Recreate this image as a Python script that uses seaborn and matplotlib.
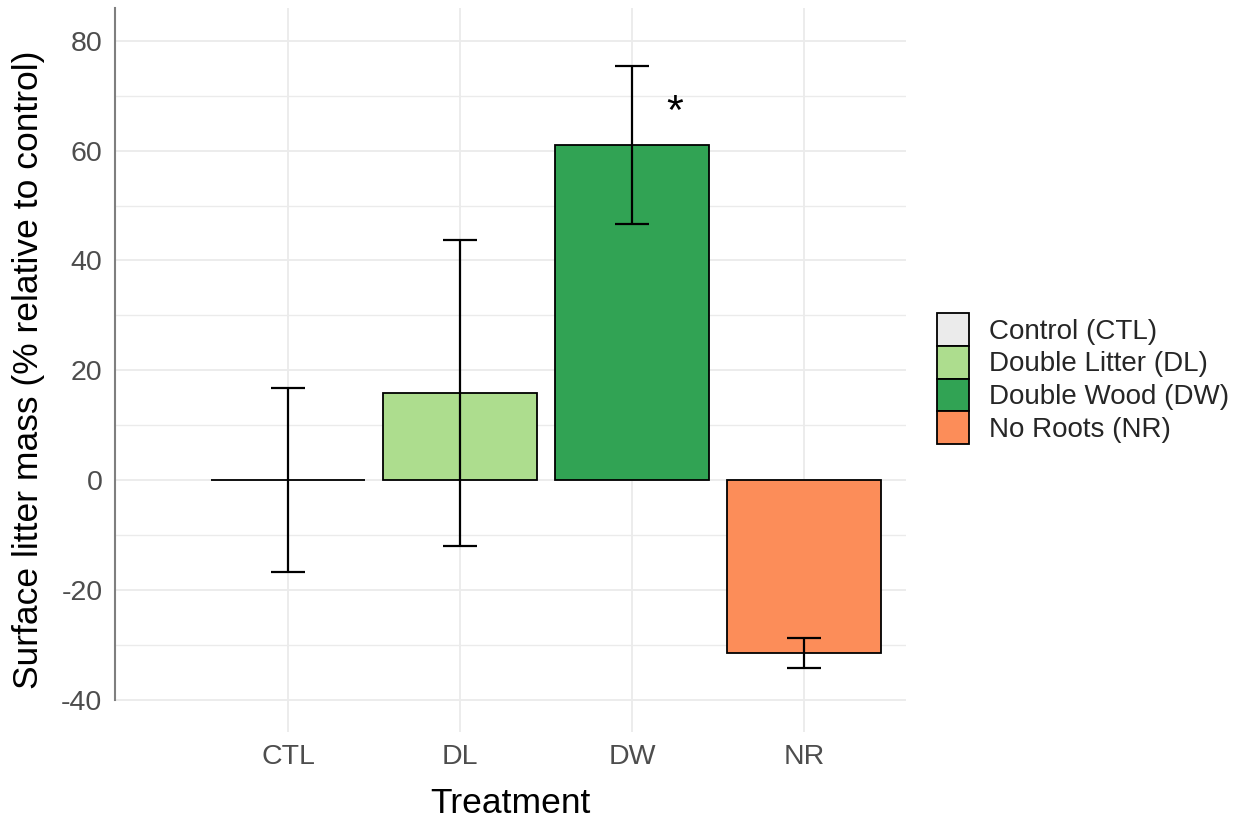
import matplotlib
matplotlib.use("Agg")
import matplotlib.pyplot as plt
import seaborn as sns
import pandas as pd
import numpy as np

# Treatment means (% relative to control) and standard errors
treatments = ["CTL", "DL", "DW", "NR"]
treatment_names = ["Control (CTL)", "Double Litter (DL)", "Double Wood (DW)", "No Roots (NR)"]
mean_change = [0.0, 15.8, 61.0, -31.5]
std_error = [16.7, 27.9, 14.4, 2.65]
bar_colors = ["#ebebeb", "#addd8e", "#31a354", "#fc8d59"]
significance = {"DW": "*"}

sns.set_style("white")
plt.rcParams["font.family"] = ["Liberation Sans", "DejaVu Sans"]

df = pd.DataFrame({"Treatment": treatments, "Name": treatment_names,
                   "Change": mean_change, "SE": std_error})

fig = plt.figure(figsize=(12.46, 8.23), dpi=100)
W, H = 1246, 823
ax = fig.add_axes([115 / W, (H - 732) / H, (906 - 115) / W, (732 - 8) / H])

sns.barplot(data=df, x="Treatment", y="Change", hue="Name", palette=bar_colors,
            hue_order=treatment_names, order=treatments, dodge=False, width=0.9,
            saturation=1, edgecolor="black", linewidth=1.3, errorbar=None,
            ax=ax, zorder=3)

xpos = np.arange(len(treatments))
ax.errorbar(xpos, df["Change"], yerr=df["SE"], fmt="none", ecolor="black",
            elinewidth=1.6, capsize=12.2, capthick=1.6, zorder=4)

for i, t in enumerate(treatments):
    if t in significance:
        top = df["Change"][i] + df["SE"][i]
        ax.text(i + 0.25, top - 8.5, significance[t], ha="center", va="center",
                fontsize=31, color="black", zorder=5)

ax.set_ylim(-45.9, 86)
ax.set_xlim(-1.006, 3.593)
ax.set_yticks([-40, -20, 0, 20, 40, 60, 80])
ax.set_yticks(np.arange(-30, 80, 20), minor=True)
ax.set_yticklabels(["-40", "-20", "0", "20", "40", "60", "80"])

grid_col = "#ebebeb"
ax.grid(True, which="major", axis="both", color=grid_col, linewidth=1.3, zorder=0)
ax.grid(True, which="minor", axis="y", color=grid_col, linewidth=1.0, zorder=0)
ax.set_axisbelow(True)

for s in ["top", "right", "bottom"]:
    ax.spines[s].set_visible(False)
ax.spines["left"].set_color("#7f7f7f")
ax.spines["left"].set_linewidth(1.5)
ax.spines["left"].set_bounds(-40, 86)

ax.tick_params(axis="both", which="both", length=0, labelsize=20.5, colors="#4d4d4d")
ax.tick_params(axis="y", pad=9)
ax.tick_params(axis="x", pad=9)

ax.set_xlabel("Treatment", fontsize=25.5, color="black", labelpad=12)
ax.set_ylabel("Surface litter mass (% relative to control)", fontsize=25.5,
              color="black", labelpad=12)

handles, labels = ax.get_legend_handles_labels()
leg = ax.legend(handles, labels, loc="upper left",
                bbox_to_anchor=(937 / W, (H - 313) / H), bbox_transform=fig.transFigure,
                frameon=False, fontsize=20, handlelength=1.15, handleheight=1.44,
                labelspacing=0.0, handletextpad=0.72, borderpad=0, borderaxespad=0)
for h in leg.legend_handles:
    h.set_edgecolor("black")
    h.set_linewidth(1.3)

fig.savefig("out.png", dpi=100, facecolor="white")
